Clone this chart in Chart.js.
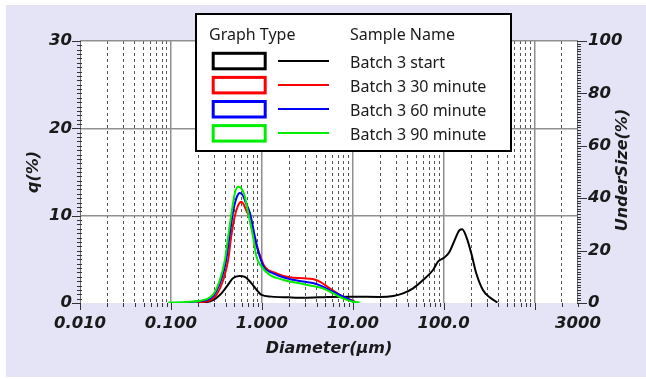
<!DOCTYPE html>
<html>
<head>
<meta charset="utf-8">
<script src="https://cdn.jsdelivr.net/npm/chart.js"></script>
<style>
  html, body { margin: 0; padding: 0; background: #fff; }
  #wrap { width: 646px; height: 379px; }
</style>
</head>
<body>
<div id="wrap"><canvas id="myChart" width="646" height="379"></canvas></div>
<script>
// Batch 3 particle size distribution - q(%) against diameter (um)
var sampleNames = ['Batch 3 start', 'Batch 3 30 minute', 'Batch 3 60 minute', 'Batch 3 90 minute'];

// Batch 3 start
var diamStart = [0.2, 0.25, 0.29, 0.345, 0.41, 0.48, 0.565, 0.65, 0.77, 0.91, 0.99, 1.27, 1.95, 2.97, 5.36, 10, 19.8, 27.8, 35.7, 46, 59.3, 76.3, 86.5, 102.5, 116, 132, 150, 160, 177, 201, 228, 270, 320, 390];
var qStart    = [0.05, 0.12, 0.34, 0.92, 1.87, 2.83, 3.1, 3.0, 2.25, 1.3, 0.92, 0.73, 0.65, 0.6, 0.7, 0.72, 0.7, 0.8, 1.1, 1.68, 2.63, 3.78, 4.73, 5.23, 5.88, 7.2, 8.36, 8.44, 7.6, 5.7, 3.4, 1.49, 0.65, 0.05];

// Batch 3 30 minute
var diam30 = [0.19, 0.27, 0.32, 0.375, 0.426, 0.46, 0.5, 0.55, 0.598, 0.63, 0.68, 0.74, 0.838, 0.95, 1.07, 1.45, 2.02, 2.84, 3.62, 4.33, 5.58, 7.2, 8.5, 10.1, 10.8];
var q30    = [0.05, 0.3, 1.0, 2.6, 4.9, 7.6, 9.8, 11.2, 11.6, 11.3, 10.5, 9.7, 7.1, 5.5, 4.2, 3.4, 2.94, 2.83, 2.75, 2.45, 1.68, 0.92, 0.53, 0.26, 0.05];

// Batch 3 60 minute
var diam60 = [0.142, 0.2, 0.27, 0.31, 0.355, 0.405, 0.44, 0.48, 0.525, 0.573, 0.62, 0.67, 0.74, 0.838, 0.95, 1.07, 1.33, 1.86, 2.84, 3.98, 5.1, 6.66, 8.17, 9.7, 10.5];
var q60    = [0.05, 0.2, 0.5, 1.2, 2.6, 4.9, 7.6, 10.3, 12.0, 12.6, 12.3, 11.4, 10.3, 7.6, 5.3, 4.0, 3.4, 2.83, 2.45, 2.18, 1.68, 1.1, 0.65, 0.26, 0.05];

// Batch 3 90 minute
var diam90 = [0.093, 0.15, 0.21, 0.27, 0.305, 0.345, 0.392, 0.426, 0.464, 0.505, 0.55, 0.598, 0.65, 0.708, 0.8, 0.873, 0.99, 1.23, 1.67, 2.59, 3.62, 4.7, 6.1, 7.8, 10.1, 11.9];
var q90    = [0.05, 0.12, 0.26, 0.65, 1.3, 2.6, 4.9, 7.6, 10.3, 12.6, 13.3, 13.1, 12.2, 10.3, 7.6, 5.3, 4.2, 3.2, 2.7, 2.25, 1.95, 1.68, 1.1, 0.53, 0.15, 0.05];

// axis ticks
var xTickValues = [0.01, 0.1, 1, 10, 100, 3000];
var xTickLabels = ['0.010', '0.100', '1.000', '10.00', '100.0', '3000'];
var qTicks = [0, 10, 20, 30];
var underTicks = [0, 20, 40, 60, 80, 100];

var tickFont = { family: 'DejaVu Sans', size: 16.5, weight: 'bold', style: 'italic' };
var titleFont = 'italic bold 16px "DejaVu Sans"';
var textColor = '#1a1a1a';

function pts(d, q) {
  return d.map(function (v, i) { return { x: v, y: q[i] }; });
}

function isDecade(v) {
  var l = Math.log10(v);
  return Math.abs(l - Math.round(l)) < 1e-9;
}

function ds(label, d, q, color, order) {
  return {
    label: label,
    data: pts(d, q),
    borderColor: color,
    backgroundColor: color,
    borderWidth: 2,
    pointRadius: 0,
    fill: false,
    cubicInterpolationMode: 'monotone',
    order: order
  };
}

var frame = {
  id: 'frame',
  beforeDraw: function (chart) {
    var ctx = chart.ctx, a = chart.chartArea;
    ctx.save();
    ctx.fillStyle = '#fff';
    ctx.fillRect(0, 0, chart.width, chart.height);
    ctx.fillStyle = '#e4e4f6';
    ctx.fillRect(6, 5, chart.width - 6, chart.height - 7);
    ctx.fillStyle = '#fff';
    ctx.fillRect(a.left, a.top, a.right - a.left, a.bottom - a.top);
    ctx.restore();
  },
  afterDraw: function (chart) {
    var ctx = chart.ctx, a = chart.chartArea;
    var xs = chart.scales.x, ys = chart.scales.y, y2 = chart.scales.y2;
    var i, v, p;
    ctx.save();

    // axis lines
    ctx.strokeStyle = '#707070';
    ctx.lineWidth = 1;
    ctx.beginPath();
    ctx.moveTo(a.left + 0.5, a.top); ctx.lineTo(a.left + 0.5, a.bottom);
    ctx.moveTo(a.right - 0.5, a.top); ctx.lineTo(a.right - 0.5, a.bottom);
    ctx.stroke();

    ctx.strokeStyle = '#333';
    ctx.beginPath();
    // left axis ticks
    for (v = 0; v <= 30; v += 0.5) {
      p = Math.round(ys.getPixelForValue(v)) + 0.5;
      if (v % 10 === 0) { ctx.moveTo(a.left - 8, p); ctx.lineTo(a.left + 1, p); }
      else { ctx.moveTo(a.left - 3, p); ctx.lineTo(a.left + 2, p); }
    }
    // right axis ticks
    for (v = 0; v <= 100; v += 1) {
      p = Math.round(y2.getPixelForValue(v)) + 0.5;
      if (v % 20 === 0) { ctx.moveTo(a.right - 1, p); ctx.lineTo(a.right + 9, p); }
      else { ctx.moveTo(a.right - 1, p); ctx.lineTo(a.right + 3, p); }
    }
    // bottom axis ticks
    xs.ticks.forEach(function (t) {
      p = Math.round(xs.getPixelForValue(t.value)) + 0.5;
      ctx.moveTo(p, a.bottom);
      ctx.lineTo(p, a.bottom + (isDecade(t.value) ? 7 : 4));
    });
    ctx.stroke();

    // axis titles
    ctx.fillStyle = textColor;
    ctx.font = titleFont;
    ctx.textAlign = 'center';
    ctx.textBaseline = 'middle';
    ctx.fillText('Diameter(\u00b5m)', (a.left + a.right) / 2, 349);
    ctx.save();
    ctx.translate(34, (a.top + a.bottom) / 2);
    ctx.rotate(-Math.PI / 2);
    ctx.fillText('q(%)', 0, 0);
    ctx.restore();
    ctx.save();
    ctx.translate(623, (a.top + a.bottom) / 2 - 2);
    ctx.rotate(-Math.PI / 2);
    ctx.fillText('UnderSize(%)', 0, 0);
    ctx.restore();

    // legend box
    ctx.fillStyle = '#fff';
    ctx.fillRect(195, 13, 317, 139);
    ctx.strokeStyle = '#000';
    ctx.lineWidth = 2;
    ctx.strokeRect(196, 14, 315, 137);
    ctx.font = '16px "Noto Sans"';
    ctx.textAlign = 'left';
    ctx.textBaseline = 'alphabetic';
    ctx.fillStyle = textColor;
    ctx.fillText('Graph Type', 209, 40);
    ctx.fillText('Sample Name', 350, 40);
    chart.data.datasets.forEach(function (d, k) {
      var cy = 61 + 24.1 * k;
      ctx.strokeStyle = d.borderColor;
      ctx.lineWidth = 3;
      ctx.strokeRect(213.2, cy - 7.7, 52, 15.5);
      ctx.lineWidth = 2;
      ctx.beginPath();
      ctx.moveTo(278, Math.round(cy));
      ctx.lineTo(329, Math.round(cy));
      ctx.stroke();
      ctx.fillStyle = textColor;
      ctx.fillText(d.label, 350, cy + 6.5);
    });
    ctx.restore();
  }
};

var myChart = document.getElementById('myChart');

var chart = new Chart(myChart, {
  type: 'line',
  data: {
    datasets: [
      ds(sampleNames[0], diamStart, qStart, '#000000', 3),
      ds(sampleNames[1], diam30, q30, '#ff0000', 2),
      ds(sampleNames[2], diam60, q60, '#0000ff', 1),
      ds(sampleNames[3], diam90, q90, '#00ee00', 0)
    ]
  },
  options: {
    responsive: false,
    animation: false,
    layout: { padding: { top: 41, left: 0, right: 0, bottom: 0 } },
    plugins: { legend: { display: false }, tooltip: { enabled: false } },
    scales: {
      x: {
        type: 'logarithmic',
        position: 'bottom',
        min: 0.01,
        max: 3000,
        afterBuildTicks: function (scale) {
          var t = [];
          for (var e = -2; e <= 3; e++) {
            for (var m = 1; m <= 9; m++) {
              var v = Number((m * Math.pow(10, e)).toPrecision(2));
              if (v <= 3000) t.push({ value: v });
            }
          }
          scale.ticks = t;
        },
        afterFit: function (scale) { scale.height = 76; },
        grid: {
          drawTicks: false,
          color: function (c) {
            var v = c.tick ? c.tick.value : 0;
            if (v === 0.01 || v === 3000) return 'rgba(0,0,0,0)';
            return isDecade(v) ? '#909090' : '#555555';
          },
          lineWidth: function (c) {
            var v = c.tick ? c.tick.value : 0;
            return isDecade(v) ? 1.5 : 1;
          }
        },
        border: {
          display: false,
          dash: function (c) {
            var v = c.tick ? c.tick.value : 1;
            return isDecade(v) ? [] : [3, 3];
          }
        },
        ticks: {
          autoSkip: false,
          maxRotation: 0,
          minRotation: 0,
          padding: 11,
          font: tickFont,
          color: textColor,
          callback: function (v) {
            var i = xTickValues.indexOf(v);
            return i < 0 ? '' : xTickLabels[i];
          }
        }
      },
      y: {
        position: 'left',
        min: 0,
        max: 30,
        afterBuildTicks: function (scale) {
          scale.ticks = qTicks.map(function (v) { return { value: v }; });
        },
        afterFit: function (scale) { scale.width = 80; },
        grid: {
          drawTicks: false,
          color: function (c) { return c.tick && c.tick.value === 0 ? 'rgba(0,0,0,0)' : '#909090'; },
          lineWidth: 1.5
        },
        border: { display: false },
        ticks: { padding: 8, font: tickFont, color: textColor }
      },
      y2: {
        position: 'right',
        min: 0,
        max: 100,
        afterBuildTicks: function (scale) {
          scale.ticks = underTicks.map(function (v) { return { value: v }; });
        },
        afterFit: function (scale) { scale.width = 68; },
        grid: { display: false, drawTicks: false },
        border: { display: false },
        ticks: { padding: 10, font: tickFont, color: textColor }
      }
    }
  },
  plugins: [frame]
});
</script>
</body>
</html>
